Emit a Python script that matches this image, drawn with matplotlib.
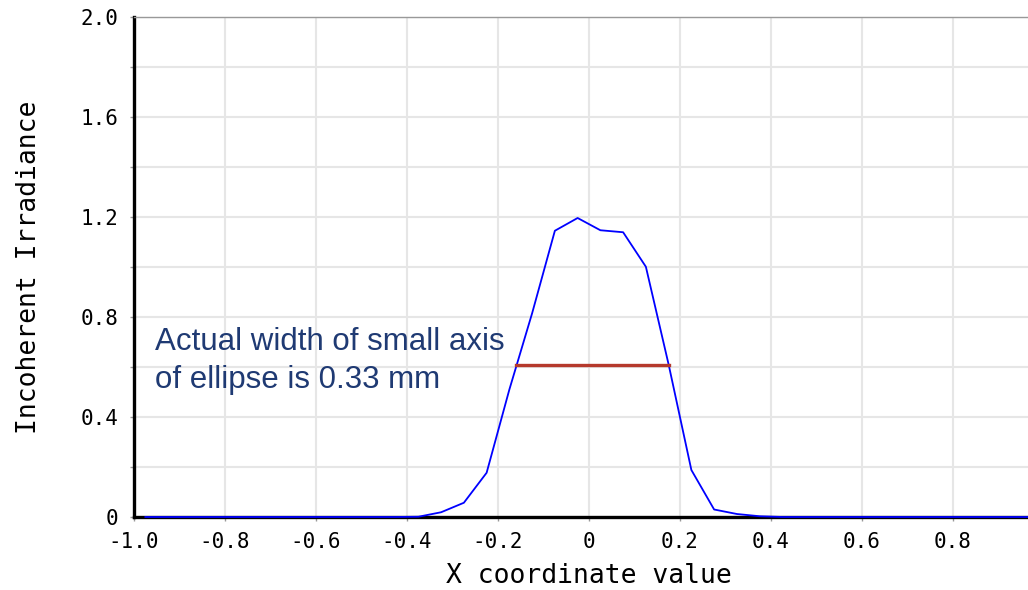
import numpy as np
import matplotlib
matplotlib.use("Agg")
import matplotlib.pyplot as plt
from matplotlib.ticker import FixedLocator, FuncFormatter

# ---- data ----
x_centers = [-0.975, -0.925, -0.875, -0.825, -0.775, -0.725, -0.675, -0.625,
             -0.575, -0.525, -0.475, -0.425, -0.375, -0.325, -0.275, -0.225,
             -0.175, -0.125, -0.075, -0.025, 0.025, 0.075, 0.125, 0.175,
             0.225, 0.275, 0.325, 0.375, 0.425, 0.475, 0.525, 0.575,
             0.625, 0.675, 0.725, 0.775, 0.825, 0.875, 0.925, 0.975]
irradiance = [0, 0, 0, 0, 0, 0, 0, 0,
              0, 0, 0, 0, 0.001, 0.019, 0.057, 0.177,
              0.51, 0.815, 1.145, 1.196, 1.147, 1.139, 1.001, 0.61,
              0.188, 0.03, 0.012, 0.003, 0, 0, 0, 0,
              0, 0, 0, 0, 0, 0, 0, 0]
fwhm_x = [-0.160, 0.175]
fwhm_y = [0.61, 0.61]
x_ticks = [-1.0, -0.8, -0.6, -0.4, -0.2, 0.0, 0.2, 0.4, 0.6, 0.8]
y_grid = [0.0, 0.2, 0.4, 0.6, 0.8, 1.0, 1.2, 1.4, 1.6, 1.8, 2.0]
y_labeled = [0.0, 0.4, 0.8, 1.2, 1.6, 2.0]
annotation = "Actual width of small axis\nof ellipse is 0.33 mm"

W, H = 1028, 590
fig = plt.figure(figsize=(W / 100, H / 100), dpi=100)
ax = fig.add_axes([134 / W, (H - 517) / H, (W - 134) / W, 500 / H])

x_min = -1.0
x_max = x_min + (W - 134) / 455.0   # axis continues past the right edge of the picture
ax.set_xlim(x_min, x_max)
ax.set_ylim(0, 2.0)

mono = "DejaVu Sans Mono"

def fmt(v):
    if abs(v) < 1e-9:
        return "0"
    return f"{v:.1f}"

ax.xaxis.set_major_locator(FixedLocator(x_ticks))
ax.xaxis.set_major_formatter(FuncFormatter(lambda v, p: fmt(v)))
ax.yaxis.set_major_locator(FixedLocator(y_grid))
ax.yaxis.set_major_formatter(FuncFormatter(
    lambda v, p: fmt(v) if any(abs(v - t) < 1e-6 for t in y_labeled) else ""))

ax.grid(True, color="#e6e6e6", linewidth=1.5, zorder=0)
ax.set_axisbelow(True)

for lab in ax.get_xticklabels() + ax.get_yticklabels():
    lab.set_fontfamily(mono)
    lab.set_fontsize(15)
ax.tick_params(axis="both", length=3, width=1, color="#999999", labelcolor="black")
ax.tick_params(axis="x", pad=8)
ax.tick_params(axis="y", pad=8)

ax.spines["right"].set_visible(False)
ax.spines["top"].set_color("#999999")
ax.spines["top"].set_linewidth(1.0)
ax.spines["left"].set_color("black")
ax.spines["left"].set_linewidth(2.4)
ax.spines["bottom"].set_color("black")
ax.spines["bottom"].set_linewidth(2.4)

ax.plot(x_centers, irradiance, color="#0000ff", linewidth=1.3, zorder=3, clip_on=False)
ax.plot(fwhm_x, fwhm_y, color="#b5392c", linewidth=2.4, zorder=4)

ax.text(-0.954, 0.762, annotation, fontsize=22.5, family="Liberation Sans",
        color="#1f3a73", va="top", ha="left", linespacing=1.35, zorder=5)

ax.set_xlabel("X coordinate value", fontsize=19, family=mono, labelpad=8)
ax.xaxis.label.set_x((0.0 - x_min) / (x_max - x_min))
ax.set_ylabel("Incoherent Irradiance", fontsize=19, family=mono, labelpad=28)

fig.savefig("out.png", dpi=100)
